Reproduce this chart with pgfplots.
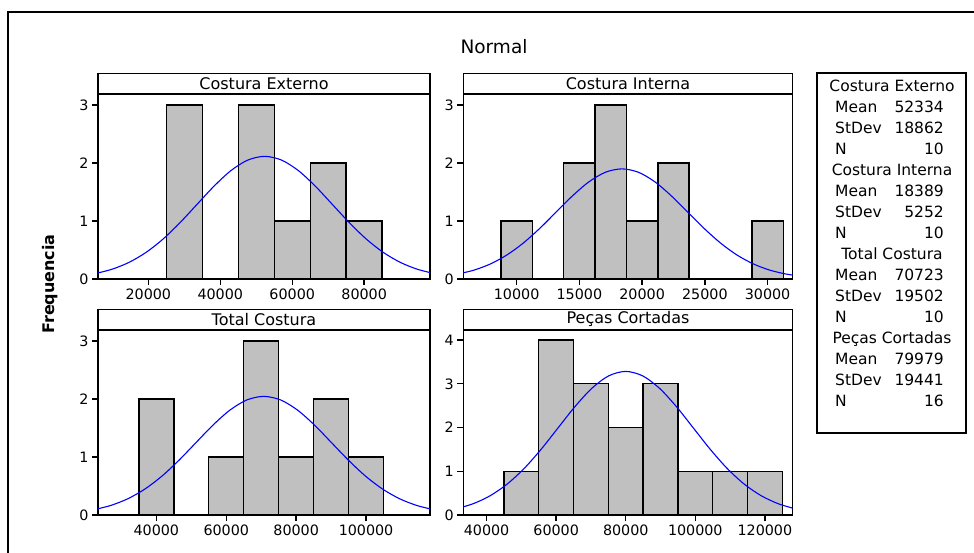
\documentclass[border=0pt]{standalone}
\usepackage{fontspec}
\setmainfont{DejaVu Sans}
\usepackage{pgfplots}
\pgfplotsset{compat=1.18}
\definecolor{barfill}{RGB}{192,192,192}
\definecolor{curveblue}{RGB}{0,0,255}

\pgfplotsset{
 panel/.style={
  scale only axis, width=#1, height=185pt, anchor=south west,
  ymin=0, ymax=3.19, ytick={0,1,2,3},
  tick align=outside, xtick pos=bottom, ytick pos=left,
  major tick length=6pt,
  axis line style={line width=1.4pt},
  major tick style={black, line width=1.4pt},
  tick label style={font=\fontsize{14.3}{16}\selectfont},
  /pgf/number format/assume math mode=true,
  /pgf/number format/fixed,
  /pgf/number format/precision=0,
  /pgf/number format/1000 sep={},
  scaled x ticks=false,
  every axis title/.style={at={(0.5,1)}, anchor=south, draw=black, line width=1.4pt,
     fill=white, minimum width=#1, minimum height=20pt, inner sep=0pt,
     font=\fontsize{16}{18}\selectfont},
 },
 bars/.style={ybar interval, fill=barfill, draw=black, line width=1.4pt},
 curve/.style={curveblue, line width=1.1pt, smooth, no markers},
}
\tikzset{lg/.style={font=\fontsize{15.5}{17}\selectfont, inner sep=0pt, text height=11pt, text depth=0pt}}

\begin{document}
\begin{tikzpicture}
\path[use as bounding box] (0pt,0pt) rectangle (974pt,-553pt);
\draw[line width=1.5pt] (8pt,-553pt) -- (8pt,-12pt) -- (974pt,-12pt);
\node[font=\fontsize{18.5}{20}\selectfont] at (494pt,-47pt) {Normal};
\node[font=\bfseries\fontsize{16}{18}\selectfont, rotate=90] at (50pt,-284pt) {Frequencia};

% Panel 1
\begin{axis}[panel=332pt, at={(98pt,-279pt)}, xmin=6000, xmax=98300,
  xtick={20000,40000,60000,80000}, title={Costura Externo}]
\addplot[bars] coordinates {(25000,3) (35000,0) (45000,3) (55000,1) (65000,2) (75000,1) (85000,0)};
\addplot[curve] coordinates {
(5179,0.0929) (9894,0.1683) (14610,0.2862) (19325,0.4574) (24041,0.6866)
(28756,0.9683) (33472,1.2828) (38187,1.5965) (42903,1.8665) (47618,2.0499)
(52334,2.1150) (57050,2.0499) (61765,1.8665) (66481,1.5965) (71196,1.2828)
(75912,0.9683) (80627,0.6866) (85343,0.4574) (90058,0.2862) (94774,0.1683) (99489,0.0929)};
\end{axis}

% Panel 2
\begin{axis}[panel=329.4pt, at={(463.3pt,-279pt)}, xmin=5750, xmax=32000,
  xtick={10000,15000,20000,25000,30000}, title={Costura Interna}]
\addplot[bars] coordinates {(8750,1) (11250,0) (13750,2) (16250,3) (18750,1) (21250,2) (23750,0) (26250,0) (28750,1) (31250,0)};
\addplot[curve] coordinates {
(5259,0.0834) (6572,0.1511) (7885,0.2570) (9198,0.4107) (10511,0.6165)
(11824,0.8694) (13137,1.1518) (14450,1.4334) (15763,1.6759) (17076,1.8406)
(18389,1.8990) (19702,1.8406) (21015,1.6759) (22328,1.4334) (23641,1.1518)
(24954,0.8694) (26267,0.6165) (27580,0.4107) (28893,0.2570) (30206,0.1511)
(31519,0.0834) (32833,0.0433)};
\end{axis}

% Panel 3
\begin{axis}[panel=332pt, at={(98pt,-515pt)}, xmin=23300, xmax=118300,
  xtick={40000,60000,80000,100000}, title={Total Costura}]
\addplot[bars] coordinates {(35000,2) (45000,0) (55000,1) (65000,3) (75000,1) (85000,2) (95000,1) (105000,0)};
\addplot[curve] coordinates {
(21968,0.0899) (26843,0.1628) (31719,0.2769) (36594,0.4424) (41470,0.6641)
(46345,0.9366) (51221,1.2408) (56096,1.5442) (60972,1.8053) (65847,1.9828)
(70723,2.0457) (75599,1.9828) (80474,1.8053) (85350,1.5442) (90225,1.2408)
(95101,0.9366) (99976,0.6641) (104852,0.4424) (109727,0.2769) (114603,0.1628) (119478,0.0899)};
\end{axis}

% Panel 4
\begin{axis}[panel=329.4pt, at={(463.3pt,-515pt)}, xmin=33300, xmax=128000,
  ymax=4.23, ytick={0,1,2,3,4},
  xtick={40000,60000,80000,100000,120000}, title={Peças Cortadas}]
\addplot[bars] coordinates {(45000,1) (55000,4) (65000,3) (75000,2) (85000,3) (95000,1) (105000,1) (115000,1) (125000,0)};
\addplot[curve] coordinates {
(31376,0.1443) (36237,0.2612) (41097,0.4444) (45957,0.7101) (50817,1.0659)
(55678,1.5032) (60538,1.9914) (65398,2.4784) (70259,2.8975) (75119,3.1823)
(79979,3.2833) (84839,3.1823) (89699,2.8975) (94560,2.4784) (99420,1.9914)
(104280,1.5032) (109141,1.0659) (114001,0.7101) (118861,0.4444) (123721,0.2612) (128582,0.1443)};
\end{axis}

% Legend box
\draw[line width=1.4pt] (817pt,-73pt) rectangle (966pt,-433pt);
\node[lg] at (892pt,-86pt) {Costura Externo};
\node[lg, anchor=west] at (835pt,-107pt) {Mean};  \node[lg, anchor=east] at (944pt,-107pt) {52334};
\node[lg, anchor=west] at (835pt,-128pt) {StDev}; \node[lg, anchor=east] at (944pt,-128pt) {18862};
\node[lg, anchor=west] at (835pt,-149pt) {N};     \node[lg, anchor=east] at (944pt,-149pt) {10};
\node[lg] at (892pt,-170pt) {Costura Interna};
\node[lg, anchor=west] at (835pt,-191pt) {Mean};  \node[lg, anchor=east] at (944pt,-191pt) {18389};
\node[lg, anchor=west] at (835pt,-212pt) {StDev}; \node[lg, anchor=east] at (944pt,-212pt) {5252};
\node[lg, anchor=west] at (835pt,-233pt) {N};     \node[lg, anchor=east] at (944pt,-233pt) {10};
\node[lg] at (892pt,-254pt) {Total Costura};
\node[lg, anchor=west] at (835pt,-275pt) {Mean};  \node[lg, anchor=east] at (944pt,-275pt) {70723};
\node[lg, anchor=west] at (835pt,-296pt) {StDev}; \node[lg, anchor=east] at (944pt,-296pt) {19502};
\node[lg, anchor=west] at (835pt,-317pt) {N};     \node[lg, anchor=east] at (944pt,-317pt) {10};
\node[lg] at (892pt,-338pt) {Peças Cortadas};
\node[lg, anchor=west] at (835pt,-359pt) {Mean};  \node[lg, anchor=east] at (944pt,-359pt) {79979};
\node[lg, anchor=west] at (835pt,-380pt) {StDev}; \node[lg, anchor=east] at (944pt,-380pt) {19441};
\node[lg, anchor=west] at (835pt,-401pt) {N};     \node[lg, anchor=east] at (944pt,-401pt) {16};
\end{tikzpicture}
\end{document}
